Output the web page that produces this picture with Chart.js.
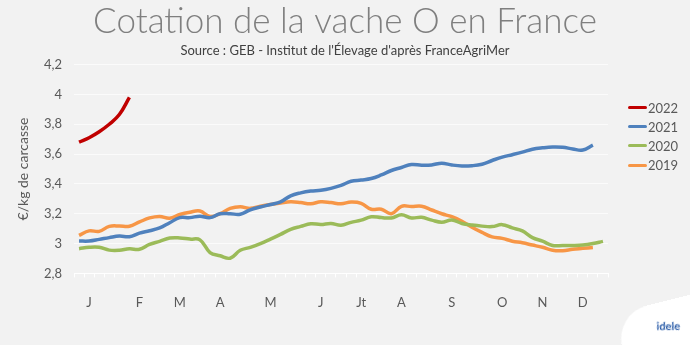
<!DOCTYPE html>
<html lang="fr">
<head>
<meta charset="utf-8">
<title>Cotation de la vache O en France</title>
<script src="https://cdn.jsdelivr.net/npm/chart.js@4/dist/chart.umd.min.js"></script>
<style>
    body { margin: 0; background: #f2f2f2; }
    #wrap { position: relative; width: 690px; height: 345px; background: #f2f2f2; overflow: hidden; }
    #legend { position: absolute; left: 628px; top: 98px; font-family: Lato, sans-serif; font-size: 13px; color: #595959; }
    .legend-item { display: flex; align-items: center; height: 19.2px; }
    .legend-line { width: 19px; height: 3px; border-radius: 2px; margin-right: 1px; }
    #logo { position: absolute; left: 620px; top: 302px; width: 90px; height: 60px; background: #ffffff;
            border-radius: 45px 10px 10px 35px; transform: rotate(-14deg); }
    #logo span { position: absolute; left: 38px; top: 18px; transform: rotate(14deg);
                 font: bold 11px Lato, sans-serif; color: #2a5ca8; }
</style>
</head>
<body>
<div id="wrap">
    <canvas id="chart" width="690" height="345"></canvas>
    <div id="legend"></div>
    <div id="logo"><span>idele</span></div>
</div>
<script>
// Weeks of the year (category axis), 2020 had 53 weeks
const weeks = Array.from({ length: 53 }, (_, i) => i + 1);

// Month initials and the week under which each one is printed
const monthLabels = ['J', 'F', 'M', 'A', 'M', 'J', 'Jt', 'A', 'S', 'O', 'N', 'D'];
const monthWeeks = [2, 7, 11, 15, 20, 25, 29, 33, 38, 43, 47, 51];

// Y axis ticks
const yMin = 2.8;
const yMax = 4.2;
const yStep = 0.2;

// Weekly quotations, €/kg carcass
const price2022 = [3.68, 3.71, 3.75, 3.80, 3.865, 3.98];

const price2021 = [3.017, 3.017, 3.028, 3.04, 3.05, 3.046, 3.07, 3.086, 3.105, 3.14,
    3.174, 3.174, 3.184, 3.174, 3.2, 3.2, 3.197, 3.226, 3.245, 3.262,
    3.28, 3.32, 3.34, 3.352, 3.357, 3.37, 3.39, 3.418, 3.426, 3.436,
    3.46, 3.49, 3.51, 3.53, 3.525, 3.527, 3.539, 3.527, 3.52, 3.522,
    3.532, 3.557, 3.58, 3.596, 3.613, 3.632, 3.642, 3.648, 3.646, 3.634,
    3.627, 3.66];

const price2020 = [2.966, 2.975, 2.975, 2.956, 2.955, 2.965, 2.962, 2.995, 3.015, 3.037,
    3.038, 3.03, 3.025, 2.94, 2.918, 2.902, 2.955, 2.975, 3.0, 3.03,
    3.062, 3.095, 3.115, 3.133, 3.128, 3.135, 3.123, 3.142, 3.157, 3.18,
    3.174, 3.172, 3.193, 3.172, 3.176, 3.157, 3.143, 3.158, 3.135, 3.124,
    3.117, 3.114, 3.127, 3.105, 3.085, 3.04, 3.016, 2.987, 2.987, 2.987,
    2.99, 3.0, 3.015];

const price2019 = [3.055, 3.085, 3.082, 3.115, 3.118, 3.116, 3.145, 3.172, 3.182, 3.17,
    3.195, 3.21, 3.218, 3.182, 3.2, 3.236, 3.247, 3.236, 3.25, 3.262,
    3.272, 3.28, 3.275, 3.267, 3.28, 3.275, 3.267, 3.278, 3.27, 3.23,
    3.23, 3.2, 3.25, 3.248, 3.25, 3.225, 3.2, 3.18, 3.15, 3.11,
    3.075, 3.045, 3.035, 3.016, 3.005, 2.99, 2.975, 2.955, 2.952, 2.962,
    2.968, 2.974];

const seriesNames = ['2022', '2021', '2020', '2019'];
const seriesColors = ['#c00000', '#4f81bd', '#9bbb59', '#f79646'];

/**
 * Format a tick value the French way (comma as decimal separator)
 */
function formatTick(value) {
    return String(Number(value.toFixed(1))).replace('.', ',');
}

/**
 * Build one line dataset
 */
function makeDataset(label, values, color) {
    return {
        label: label,
        data: values,
        borderColor: color,
        backgroundColor: color,
        borderWidth: 3.5,
        pointRadius: 0,
        tension: 0.4,
        fill: false
    };
}

/**
 * Fill the html legend from the chart datasets
 */
function buildLegend(chart) {
    const box = document.getElementById('legend');
    chart.data.datasets.forEach(ds => {
        const row = document.createElement('div');
        row.className = 'legend-item';
        row.innerHTML = '<span class="legend-line" style="background:' + ds.borderColor + '"></span>' + ds.label;
        box.appendChild(row);
    });
}

const seriesValues = [price2022, price2021, price2020, price2019];

const chart = new Chart(document.getElementById('chart'), {
    type: 'line',
    data: {
        labels: weeks,
        datasets: seriesNames.map((name, i) => makeDataset(name, seriesValues[i], seriesColors[i]))
    },
    options: {
        responsive: false,
        animation: false,
        devicePixelRatio: 1,
        layout: { padding: { left: 0, right: 0, top: 0, bottom: 16 } },
        plugins: {
            legend: { display: false },
            tooltip: { enabled: false },
            title: {
                display: true,
                text: 'Cotation de la vache O en France',
                color: '#7f7f7f',
                font: { family: 'Lato', size: 35, weight: 300 },
                padding: { top: 1, bottom: 0 }
            },
            subtitle: {
                display: true,
                text: "Source : GEB - Institut de l'Élevage d'après FranceAgriMer",
                color: '#404040',
                font: { family: 'Lato', size: 13 },
                padding: { top: 0, bottom: 6 }
            }
        },
        scales: {
            x: {
                offset: true,
                grid: {
                    offset: true,
                    drawOnChartArea: false,
                    drawTicks: true,
                    tickLength: 4,
                    color: '#ffffff'
                },
                border: { display: true, color: '#ffffff' },
                ticks: {
                    autoSkip: false,
                    maxRotation: 0,
                    padding: 18,
                    color: '#595959',
                    font: { family: 'Lato', size: 13 },
                    callback: function(value, index) {
                        const pos = monthWeeks.indexOf(weeks[index]);
                        return pos >= 0 ? monthLabels[pos] : '';
                    }
                }
            },
            y: {
                min: yMin,
                max: yMax,
                grid: { color: '#fbfbfb', drawTicks: false },
                border: { display: false },
                ticks: {
                    stepSize: yStep,
                    padding: 12,
                    color: '#595959',
                    font: { family: 'Lato', size: 13 },
                    callback: formatTick
                },
                title: {
                    display: true,
                    text: '€/kg de carcasse',
                    color: '#595959',
                    font: { family: 'Lato', size: 14 },
                    padding: { top: 15, bottom: 0 }
                },
                afterFit: function(scale) {
                    scale.width = 74;
                }
            },
            // empty right-hand box keeping room for the legend
            yRight: {
                position: 'right',
                grid: { display: false },
                border: { display: false },
                ticks: { display: false },
                afterFit: function(scale) {
                    scale.width = 82;
                }
            }
        }
    }
});

buildLegend(chart);
</script>
</body>
</html>
